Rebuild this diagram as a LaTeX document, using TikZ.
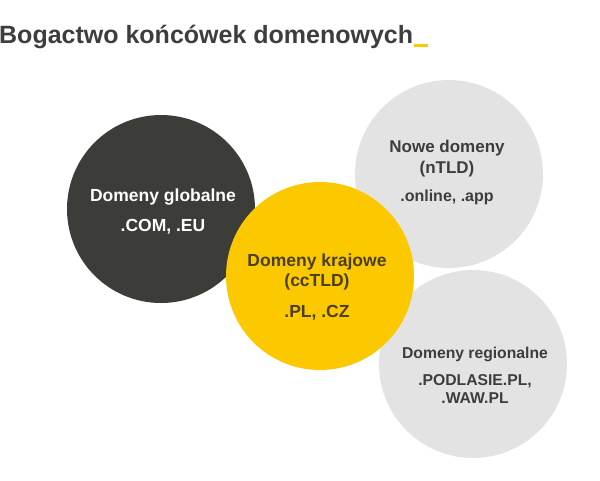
\documentclass[tikz,border=0pt]{standalone}
\usepackage{fontspec}
\setmainfont{Liberation Sans}
\usetikzlibrary{positioning}

\definecolor{ciemny}{HTML}{3C3C39}
\definecolor{zolty}{HTML}{FCC900}
\definecolor{jasny}{HTML}{E3E3E3}
\definecolor{napis}{HTML}{3D3D3D}
\definecolor{brazowy}{HTML}{4A3F18}

\tikzset{
    kolo/.style={circle, minimum size=188pt, inner sep=0pt},
    opis/.style={align=center, font=\bfseries\fontsize{15}{18}\selectfont}
}

\begin{document}
\begin{tikzpicture}[x=1pt,y=-1pt]
\useasboundingbox (0,0) rectangle (600,480);

% title
\node[anchor=base west, inner sep=0pt, text=napis,
      font=\bfseries\fontsize{25}{30}\selectfont] (tytul) at (-1,43)
    {Bogactwo końcówek domenowych\kern1pt\textcolor{zolty}{\rule[-4pt]{14pt}{3pt}}};

% the circles, yellow one on top
\node[kolo, fill=ciemny] (glob) at (161,209) {};
\node[kolo, fill=jasny]  (nowe) at (449,174) {};
\node[kolo, fill=jasny]  (reg)  at (473,364) {};
\node[kolo, fill=zolty]  (kraj) at (320,276) {};

% the texts
\node[opis, text=white, font=\bfseries\fontsize{17.5}{30}\selectfont] (glob-t) at (163,212)
    {Domeny globalne\\.COM, .EU};
\node[opis, text=brazowy, font=\bfseries\fontsize{17.5}{20}\selectfont] (kraj-t) at (317,287)
    {Domeny krajowe\\(ccTLD)\\[11pt].PL, .CZ};
\node[opis, text=napis, font=\bfseries\fontsize{17}{21}\selectfont] (nowe-t) at (447,172)
    {Nowe domeny\\(nTLD)\\[7pt]{\fontsize{16}{19}\selectfont .online, .app}};
\node[opis, text=napis, font=\bfseries\fontsize{15.7}{18}\selectfont] (reg-t) at (475,375)
    {Domeny regionalne\\[9pt].PODLASIE.PL,\\.WAW.PL};

\end{tikzpicture}
\end{document}
